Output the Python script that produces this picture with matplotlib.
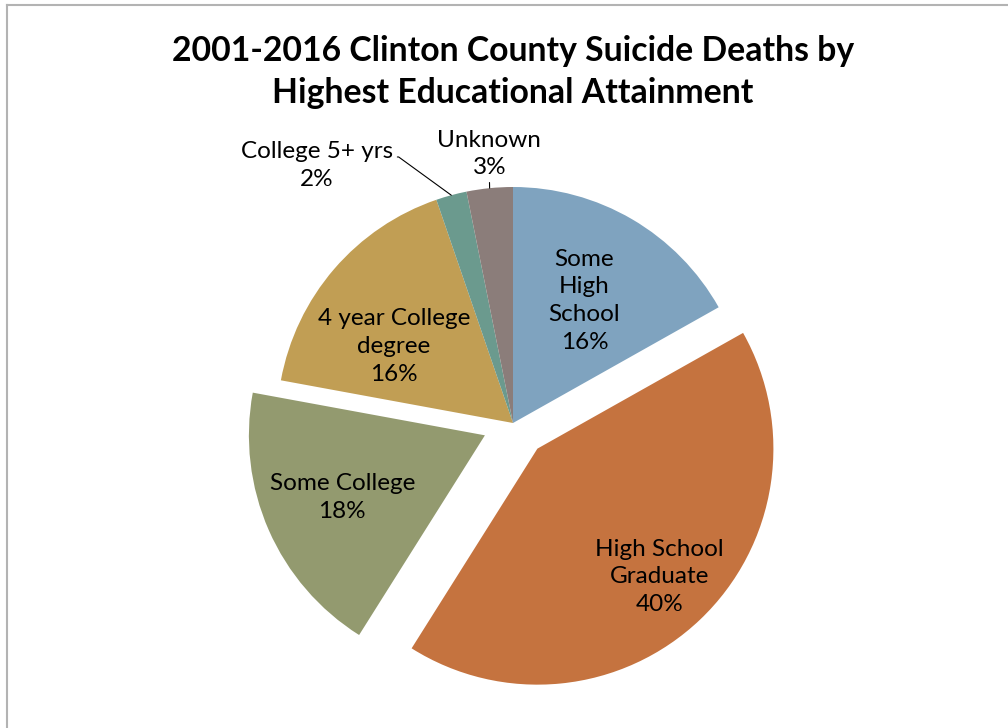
import matplotlib.pyplot as plt
import numpy as np
from matplotlib.lines import Line2D

categories = ['Some\nHigh\nSchool', 'High School\nGraduate', 'Some College',
              '4 year College\ndegree', 'College 5+ yrs', 'Unknown']
percents = [16, 40, 18, 16, 2, 3]
colors = ['#7FA3BF', '#C5733F', '#939A6F', '#C19E54', '#6B9A8E', '#8B7D7A']
explode = [0, 0.15, 0.13, 0, 0, 0]

# label placement: radius fraction and angular nudge (deg) from wedge middle
label_r = [0.6, 0.75, 0.66, 0.6, None, None]
label_turn = [0, 0, 0, 8, 0, 0]

W, H = 1008, 728
cx, cy, rad = 513, 423, 236

fig = plt.figure(figsize=(W / 100, H / 100), dpi=100)
ax = fig.add_axes([0, 0, 1, 1])

wedges, _ = ax.pie(percents, colors=colors, explode=explode, startangle=90,
                   counterclock=False, radius=1,
                   wedgeprops=dict(linewidth=0))
ax.set_xlim(-cx / rad, (W - cx) / rad)
ax.set_ylim(-(H - cy) / rad, cy / rad)
ax.set_aspect('equal')
ax.axis('off')

font = 'Lato'
fs = 17.5
ls = 1.4
for w, lab, pct, r, ex, turn in zip(wedges, categories, percents, label_r,
                                    explode, label_turn):
    if r is None:
        continue
    mid = np.deg2rad((w.theta1 + w.theta2) / 2 + turn)
    x = np.cos(mid) * (r + ex)
    y = np.sin(mid) * (r + ex)
    ax.text(x, y, f'{lab}\n{pct}%', ha='center', va='center', fontsize=fs,
            family=font, linespacing=ls)

# outside labels with leader lines
def mid_point(w, r=1.0):
    mid = np.deg2rad((w.theta1 + w.theta2) / 2)
    return np.cos(mid) * r, np.sin(mid) * r

ax.annotate(f'{categories[4]}\n{percents[4]}%', xy=mid_point(wedges[4]),
            xytext=(-0.83, 1.09), ha='center', va='center', fontsize=fs,
            family=font, linespacing=ls,
            arrowprops=dict(arrowstyle='-', color='black', lw=0.8,
                            relpos=(1.0, 0.68), shrinkA=1, shrinkB=0,
                            connectionstyle='angle,angleA=0,angleB=144,rad=0'))
ax.annotate(f'{categories[5]}\n{percents[5]}%', xy=mid_point(wedges[5]),
            xytext=(-0.10, 1.14), ha='center', va='center', fontsize=fs,
            family=font, linespacing=ls,
            arrowprops=dict(arrowstyle='-', color='black', lw=0.8,
                            relpos=(0.5, 0.0), shrinkA=1, shrinkB=0))

fig.text(cx / W, 1 - 72 / H,
         '2001-2016 Clinton County Suicide Deaths by\nHighest Educational Attainment',
         ha='center', va='center', fontsize=24.3, fontweight='bold', family=font,
         linespacing=1.39)

# chart area border
fig.add_artist(Line2D([6.5 / W, 6.5 / W], [0, 1 - 4.5 / H], color='#B3B3B3', lw=1.5))
fig.add_artist(Line2D([6.5 / W, 1], [1 - 4.5 / H, 1 - 4.5 / H], color='#B3B3B3', lw=1.5))

fig.savefig('out.png', dpi=100, facecolor='white')
